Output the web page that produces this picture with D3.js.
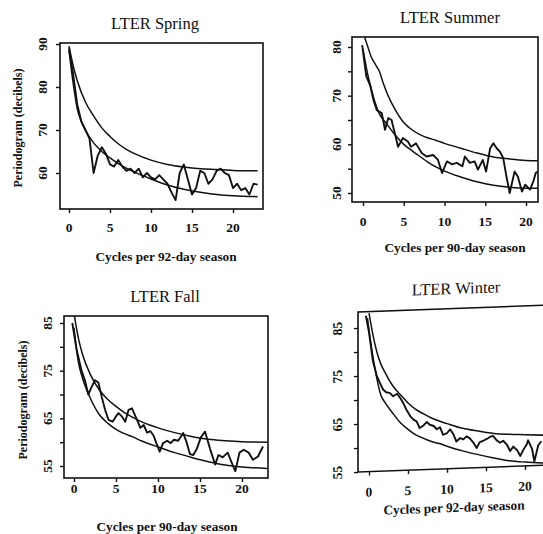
<!DOCTYPE html>
<html><head><meta charset="utf-8">
<script src="https://cdn.jsdelivr.net/npm/d3@7"></script>
<style>body{margin:0;background:#fff}svg{display:block}</style>
</head><body>
<svg id="c" width="543" height="534"></svg>
<script>
// ---------- text ----------
const titles = ["LTER Spring", "LTER Summer", "LTER Fall", "LTER Winter"];
const xAxisTitles = ["Cycles per 92-day season", "Cycles per 90-day season", "Cycles per 90-day season", "Cycles per 92-day season"];
const yAxisTitle = "Periodogram (decibels)";
const xTickValues = [0, 5, 10, 15, 20];
const springYTicks = [60, 70, 80, 90];
const springYLabels = [60, 70, 80, 90];
const summerYTicks = [50, 55, 60, 65, 70, 75, 80];
const summerYLabels = [50, 60, 70, 80];
const fallYTicks = [55, 60, 65, 70, 75, 80, 85];
const fallYLabels = [55, 65, 75, 85];
const winterYTicks = [55, 60, 65, 70, 75, 80, 85];
const winterYLabels = [55, 65, 75, 85];

// ---------- Spring ----------
const springFreq = [0,0.5,1,1.5,2,2.5,3,3.5,4,4.5,5,5.5,6,6.5,7,7.5,8,8.5,9,9.5,10,10.5,11,11.5,12,12.5,13,13.5,14,14.5,15,15.5,16,16.5,17,17.5,18,18.5,19,19.5,20,20.5,21,21.5,22,22.5,23];
const springPgram = [89,83,76,72,70,68,60,64,66,64.5,62,61.5,63,61.5,60.5,61,60,61,59,60,59,58.5,59.5,58.5,57.5,55.5,53.7,60,62,58.5,55,56.5,60.5,60,57.5,58.5,60.5,61,60,59.5,56.5,57.5,56,56.5,55,57.5,57.3];
const springUpperFreq = [0,0.5,1,2,3,4,5,6,7,8,10,12,14,16,18,20,23];
const springUpper = [89.5,85,81.5,76.5,73.3,70.5,68.5,66.8,65.5,64.5,63,62,61.4,61,60.8,60.6,60.5];
const springLowerFreq = [0,0.5,1,1.5,2,3,4,5,6,8,10,12,14,16,18,20,23];
const springLower = [88.5,81,75,72,70,67,65,63.5,62.2,60.2,58.6,57.2,56.2,55.5,55,54.7,54.5];

// ---------- Summer ----------
const summerFreq = [-0.1,0.4,0.9,1.3,1.7,2.3,2.7,3.1,3.5,3.9,4.3,4.9,5.5,5.9,6.5,7.2,7.8,8.6,9.2,9.7,10.3,10.9,11.5,12.2,12.5,13.1,13.7,14.1,14.7,15.1,15.6,16,16.4,16.8,17.2,17.6,18,18.6,19,19.5,19.9,20.5,20.9,21.2,21.4];
const summerPgram = [80.4,74,72,69,67,66.4,63,65.4,65,62.3,59.5,61.3,60.6,59.5,60.2,58.2,57.5,57.8,56.8,54.1,56.5,55.9,56.2,55.5,57.5,56.2,56.5,54.8,56.8,54.4,59.2,60.2,59.2,58.5,57.2,53.4,50,54.4,53.4,50.3,51.7,50.7,52.4,54.1,54.4];
const summerUpperFreq = [0.2,0.6,1,1.5,2,2.5,3,4,5,6,7,8,9,10,12,14,16,18,20,21.5];
const summerUpper = [82,80,78,76.5,75,72.5,70.3,67,64.5,63,62,61.3,60.8,60.2,59.2,58.2,57.4,57,56.7,56.6];
const summerLowerFreq = [0,0.5,1,1.5,2,3,4,5,6,7,8,9,10,12,14,16,18,20,21.5];
const summerLower = [79.5,75,71.5,68.5,66.3,64,61.8,60,58.7,57.5,56.3,55.3,54.5,53.3,52.3,51.6,51.2,51,51];

// ---------- Fall ----------
const fallFreq = [-0.2,0.3,0.9,1.3,1.7,2.1,2.5,2.9,3.3,3.7,4.1,4.6,5,5.3,5.7,6.1,6.5,6.9,7.5,7.9,8.3,8.7,9.1,9.5,9.8,10.2,10.6,11.1,11.5,11.9,12.4,13,13.4,13.8,14.2,14.6,15.1,15.6,16.2,16.8,17.2,17.7,18.3,18.7,19.2,19.7,20.2,20.8,21.3,21.9,22.5];
const fallPgram = [85,79.5,75,73,70,71.6,73,72.5,69.5,66.8,64.7,64.3,65.4,66.1,65.4,64.3,66.8,67.1,64.7,63,63.6,62,62.3,61.3,59.8,58,59.8,60.3,59.8,60.5,60.3,61.9,60,57.5,57.3,58.5,61,62.2,58.6,55.3,57.3,56.8,57.8,56,53.9,57.8,58.4,57.8,56.3,57,59.1];
const fallUpperFreq = [0,0.5,1,2,3,4,5,6,7,8,9,10,12,14,16,18,20,23];
const fallUpper = [87,82,78.5,74,71,69,67.5,66.2,65.2,64.3,63.6,63,62,61.2,60.6,60.3,60.1,60];
const fallLowerFreq = [0,0.5,1,1.5,2,3,4,5,6,7,8,10,12,14,16,18,20,23];
const fallLower = [84,77,73.5,71,69,65.8,64,62.7,61.8,61.1,60.3,59,57.8,56.8,55.9,55.2,54.8,54.5];

// ---------- Winter (values relative to the scanned, slightly tilted frame) ----------
const winterFreq = [-0.4,0,0.5,1,1.4,1.8,2.2,2.7,3.1,3.6,4,4.4,4.8,5.3,5.7,6.1,6.5,7,7.4,7.8,8.3,8.7,9.1,9.5,10,10.4,10.8,11.2,11.7,12.1,12.5,12.9,13.4,13.8,14.2,14.6,15.1,15.5,15.9,16.4,16.8,17.2,17.7,18.1,18.5,19,19.4,19.8,20.2,20.4,20.9,21.2,21.7,22.1];
const winterPgram = [87.5,84,78,74.9,73.4,72,71.4,71.2,70.5,71,70.1,69,67.6,66.2,65.5,65.1,63.7,64.2,64.9,64.3,64,63.3,63.7,62.1,62.4,63.2,62.2,60.6,61.3,61,61.6,61.2,60.2,59.1,60.3,60.5,60.9,61.3,61.5,60.5,60,60.4,59.5,58.2,59.1,58.3,57.1,58.4,59.4,60.3,58.5,55.9,59.2,60];
const winterUpperFreq = [0,0.5,1,1.5,2,3,4,5,6,7,8,9,10,12,14,16,18,20,22.5];
const winterUpper = [88,83.5,79.9,77.4,75.7,72.8,70.8,69,67.6,66.6,65.7,65,64.4,63.3,62.6,62,61.7,61.5,61.25];
const winterLowerFreq = [-0.2,0.3,0.7,1,1.5,2,3,4,5,6,7,8,9,10,12,14,16,18,20,22.5];
const winterLower = [87,81,77,74.4,70.9,69.4,67.1,65,63.5,62.3,61.5,60.8,60.3,59.7,58.6,57.7,56.9,56.2,55.8,55.45];

// ---------- layout (pixel geometry only) ----------
const panels = [
  {title: titles[0], xlab: xAxisTitles[0], ylab: true,
   box: [60, 43, 263, 209], xd: [0, 20], xr: [69, 233], yd: [60, 90], yr: [173, 44],
   yTicks: springYTicks, yLabels: springYLabels, tickLabOff: 17, yLabX: 22, yLabY: 128,
   titleXY: [155, 29], xlabXY: [166, 261], xTickBase: 232,
   pg: [springFreq, springPgram], up: [springUpperFreq, springUpper], lo: [springLowerFreq, springLower]},
  {title: titles[1], xlab: xAxisTitles[1], ylab: false,
   box: [352, 37, 538, 202], xd: [0, 20], xr: [363, 526], yd: [50, 80], yr: [193, 47],
   yTicks: summerYTicks, yLabels: summerYLabels, tickLabOff: 15,
   titleXY: [450, 23], xlabXY: [455, 252], xTickBase: 226,
   pg: [summerFreq, summerPgram], up: [summerUpperFreq, summerUpper], lo: [summerLowerFreq, summerLower]},
  {title: titles[2], xlab: xAxisTitles[2], ylab: true,
   box: [64, 316, 268, 478], xd: [0, 20], xr: [74, 242], yd: [55, 85], yr: [466, 323],
   yTicks: fallYTicks, yLabels: fallYLabels, tickLabOff: 16, yLabX: 27, yLabY: 400,
   titleXY: [165, 302], xlabXY: [167, 531], xTickBase: 493,
   pg: [fallFreq, fallPgram], up: [fallUpperFreq, fallUpper], lo: [fallLowerFreq, fallLower]},
  {title: titles[3], xlab: xAxisTitles[3], ylab: false,
   box: [358, 312, 552, 472], xd: [0, 20], xr: [369, 525], yd: [55, 85], yr: [472, 328],
   yTicks: winterYTicks, yLabels: winterYLabels, tickLabOff: 20,
   titleXY: [456, 297.5], xlabXY: [454, 515.5], xTickBase: 497, skew: -2.1,
   pg: [winterFreq, winterPgram], up: [winterUpperFreq, winterUpper], lo: [winterLowerFreq, winterLower]}
];

const svg = d3.select("#c");
const FONT = "'Liberation Serif', 'DejaVu Serif', serif";
const ink = "#111";

panels.forEach((p, i) => {
  const [x0, y0, x1, y1] = p.box;
  const cy = (y0 + y1) / 2;
  const g = svg.append("g");
  if (p.skew) g.attr("transform", `translate(${x0},${cy}) skewY(${p.skew}) translate(${-x0},${-cy})`);
  const x = d3.scaleLinear().domain(p.xd).range(p.xr);
  const y = d3.scaleLinear().domain(p.yd).range(p.yr);

  const cid = "clip" + i;
  g.append("clipPath").attr("id", cid).append("rect")
    .attr("x", x0).attr("y", y0).attr("width", x1 - x0).attr("height", y1 - y0);

  g.append("rect").attr("x", x0).attr("y", y0).attr("width", x1 - x0).attr("height", y1 - y0)
    .attr("fill", "none").attr("stroke", ink).attr("stroke-width", 1.6);

  const xa = g.append("g").attr("transform", `translate(0,${y1})`)
    .call(d3.axisBottom(x).tickValues(xTickValues).tickSize(4).tickFormat(""));
  xa.select(".domain").remove();
  xa.selectAll("line").attr("stroke", ink).attr("stroke-width", 1.4);
  g.selectAll(".xtl" + i).data(xTickValues).join("text")
    .attr("x", d => x(d)).attr("y", p.xTickBase)
    .attr("text-anchor", "middle").attr("font-family", FONT).attr("font-weight", "bold")
    .attr("font-size", 13.5).attr("fill", ink).text(d => d);

  const ya = g.append("g").attr("transform", `translate(${x0},0)`)
    .call(d3.axisLeft(y).tickValues(p.yTicks).tickSize(4).tickFormat(""));
  ya.select(".domain").remove();
  ya.selectAll("line").attr("stroke", ink).attr("stroke-width", 1.4);
  g.selectAll(".ytl" + i).data(p.yLabels).join("text")
    .attr("transform", d => `translate(${x0 - p.tickLabOff + 4},${y(d)}) rotate(-90)`)
    .attr("text-anchor", "middle").attr("font-family", FONT).attr("font-weight", "bold")
    .attr("font-size", 13.5).attr("fill", ink).text(d => d);

  const smooth = d3.line().x(d => x(d[0])).y(d => y(d[1])).curve(d3.curveMonotoneX);
  const jag = d3.line().x(d => x(d[0])).y(d => y(d[1]));
  const pg = p.pg[0].map((f, k) => [f, p.pg[1][k]]);
  const up = p.up[0].map((f, k) => [f, p.up[1][k]]);
  const lo = p.lo[0].map((f, k) => [f, p.lo[1][k]]);
  const cg = g.append("g").attr("clip-path", `url(#${cid})`);
  cg.append("path").attr("d", smooth(up)).attr("fill", "none").attr("stroke", ink).attr("stroke-width", 1.5);
  cg.append("path").attr("d", smooth(lo)).attr("fill", "none").attr("stroke", ink).attr("stroke-width", 1.5);
  cg.append("path").attr("d", jag(pg)).attr("fill", "none").attr("stroke", ink).attr("stroke-width", 1.9)
    .attr("stroke-linejoin", "round");

  g.append("text").attr("x", p.titleXY[0]).attr("y", p.titleXY[1]).attr("text-anchor", "middle")
    .attr("font-family", FONT).attr("font-size", 16.5).attr("fill", ink).text(p.title);
  g.append("text").attr("x", p.xlabXY[0]).attr("y", p.xlabXY[1]).attr("text-anchor", "middle")
    .attr("font-family", FONT).attr("font-weight", "bold").attr("font-size", 13.3).attr("fill", ink).text(p.xlab);
  if (p.ylab) {
    g.append("text").attr("transform", `translate(${p.yLabX},${p.yLabY}) rotate(-90)`)
      .attr("text-anchor", "middle").attr("font-family", FONT).attr("font-weight", "bold")
      .attr("font-size", 12).attr("fill", ink).text(yAxisTitle);
  }
});
</script>
</body></html>
